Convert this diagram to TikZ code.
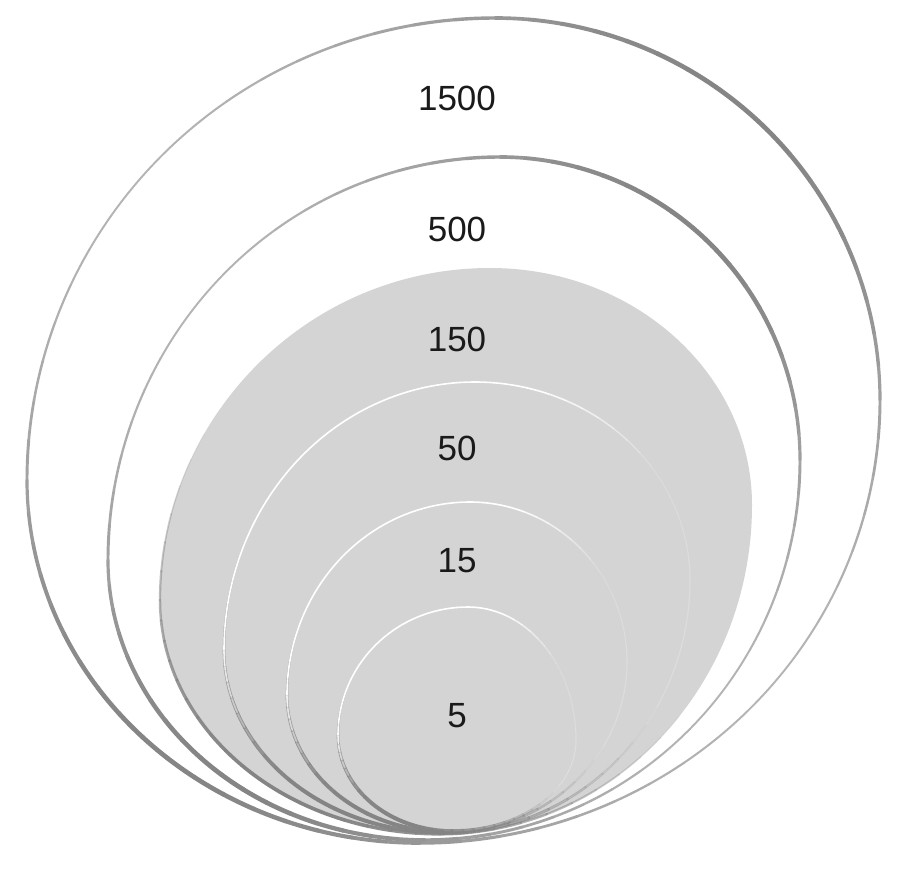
\documentclass[tikz,border=0pt]{standalone}
\usepackage{fontspec}
\setmainfont{Liberation Sans}
\definecolor{shapefill}{HTML}{D4D4D4}
\definecolor{rimdark}{HTML}{848484}
\definecolor{rimlight}{HTML}{C8C8C8}
\definecolor{labelcol}{HTML}{1A1A1A}
% egg-shaped outline: four elliptic quadrants through top, right, bottom, left
% #2..#9 = Tx Ty Rx Ry Bx By Lx Ly ; #1 = code run for each 5 degree piece
\newcommand\eggloop[9]{%
 \foreach \q/\cxe/\cye/\rxe/\rye/\st in {0/#2/#5/#4-#2/#5-#3/-90,1/#6/#5/#4-#6/#7-#5/0,2/#6/#9/#6-#8/#7-#9/90,3/#2/#9/#2-#8/#9-#3/180}{%
   \pgfmathsetmacro\cx{\cxe}\pgfmathsetmacro\cy{\cye}%
   \pgfmathsetmacro\rx{\rxe}\pgfmathsetmacro\ry{\rye}%
   \foreach \k in {0,...,17}{%
     \pgfmathsetmacro\a{\st+5*\k}\pgfmathsetmacro\m{\a+2.5}%
     \pgfmathsetmacro\sx{\cx+\rx*cos(\a)}\pgfmathsetmacro\sy{\cy+\ry*sin(\a)}%
     #1%
   }%
 }%
}
\newcommand\piece[1]{\draw[#1] (\sx,\sy) arc[start angle=\a, delta angle=5, x radius=\rx, y radius=\ry];}
% outer rims (1500, 500)
\newcommand\outerrim{%
  \pgfmathsetmacro\f{(1+cos(2*(\m+50)))/2}%
  \pgfmathsetmacro\w{1.9+2.8*\f}%
  \pgfmathtruncatemacro\p{30+70*\f}%
  \piece{line width=\w pt, draw=rimdark!\p!rimlight, line cap=round}}
% inner rims (50, 15, 5)
\newcommand\innerrim{%
  \pgfmathsetmacro\s{max(0,cos(\m-120))}%
  \pgfmathsetmacro\o{min(1,1.6*max(0,cos(\m-235)))}%
  \pgfmathsetmacro\r{0.2*max(0,cos(\m-10))}%
  \pgfmathsetmacro\w{1.2+2.8*\s}%
  \piece{line width=\w pt, draw=rimdark, draw opacity=\s, line cap=round}%
  \piece{line width=1.6pt, draw=white, draw opacity=\o, line cap=round}%
  \piece{line width=1.2pt, draw=white, draw opacity=\r, line cap=round}}
% filled 150 shape: only the shadow
\newcommand\fillrim{%
  \pgfmathsetmacro\s{max(0,cos(\m-125))}%
  \pgfmathsetmacro\w{0.5+3.2*\s}%
  \piece{line width=\w pt, draw=rimdark, draw opacity=\s, line cap=round}}
\newcommand\eggfill[9]{\fill[#1] (#2,#3)
  arc[start angle=-90, end angle=0, x radius={#4-#2}, y radius={#5-#3}]
  arc[start angle=0, end angle=90, x radius={#4-#6}, y radius={#7-#5}]
  arc[start angle=90, end angle=180, x radius={#6-#8}, y radius={#7-#9}]
  arc[start angle=180, end angle=270, x radius={#2-#8}, y radius={#9-#3}] -- cycle;}
\begin{document}
\begin{tikzpicture}[x=1pt,y=-1pt,
  lbl/.style={font=\fontsize{35}{40}\selectfont, text=labelcol, inner sep=0pt}]
\useasboundingbox (0,0) rectangle (902,870);
\fill[white] (0,0) rectangle (902,870);
% 1500
\eggfill{white}{495}{18}{880}{400}{420}{843}{27}{480}
\eggloop{\outerrim}{495}{18}{880}{400}{420}{843}{27}{480}
% 500
\eggfill{white}{500}{157}{800}{460}{425}{840}{108}{560}
\eggloop{\outerrim}{500}{157}{800}{460}{425}{840}{108}{560}
% 150
\eggfill{shapefill}{490}{268}{752}{505}{440}{834}{160}{600}
\eggloop{\fillrim}{490}{268}{752}{505}{440}{834}{160}{600}
% 50
\eggfill{shapefill}{475}{382}{690}{580}{445}{833}{224}{650}
\eggloop{\innerrim}{475}{382}{690}{580}{445}{833}{224}{650}
% 15
\eggfill{shapefill}{470}{502}{627}{662}{448}{832}{287}{695}
\eggloop{\innerrim}{470}{502}{627}{662}{448}{832}{287}{695}
% 5
\eggfill{shapefill}{468}{607}{576}{740}{452}{831}{338}{735}
\eggloop{\innerrim}{468}{607}{576}{740}{452}{831}{338}{735}
% labels
\node[lbl] (l1500) at (457,98) {1500};
\node[lbl] (l500) at (457,229) {500};
\node[lbl] (l150) at (457,339) {150};
\node[lbl] (l50) at (457,448) {50};
\node[lbl] (l15) at (457,561) {15};
\node[lbl] (l5) at (457,716) {5};
\end{tikzpicture}
\end{document}
